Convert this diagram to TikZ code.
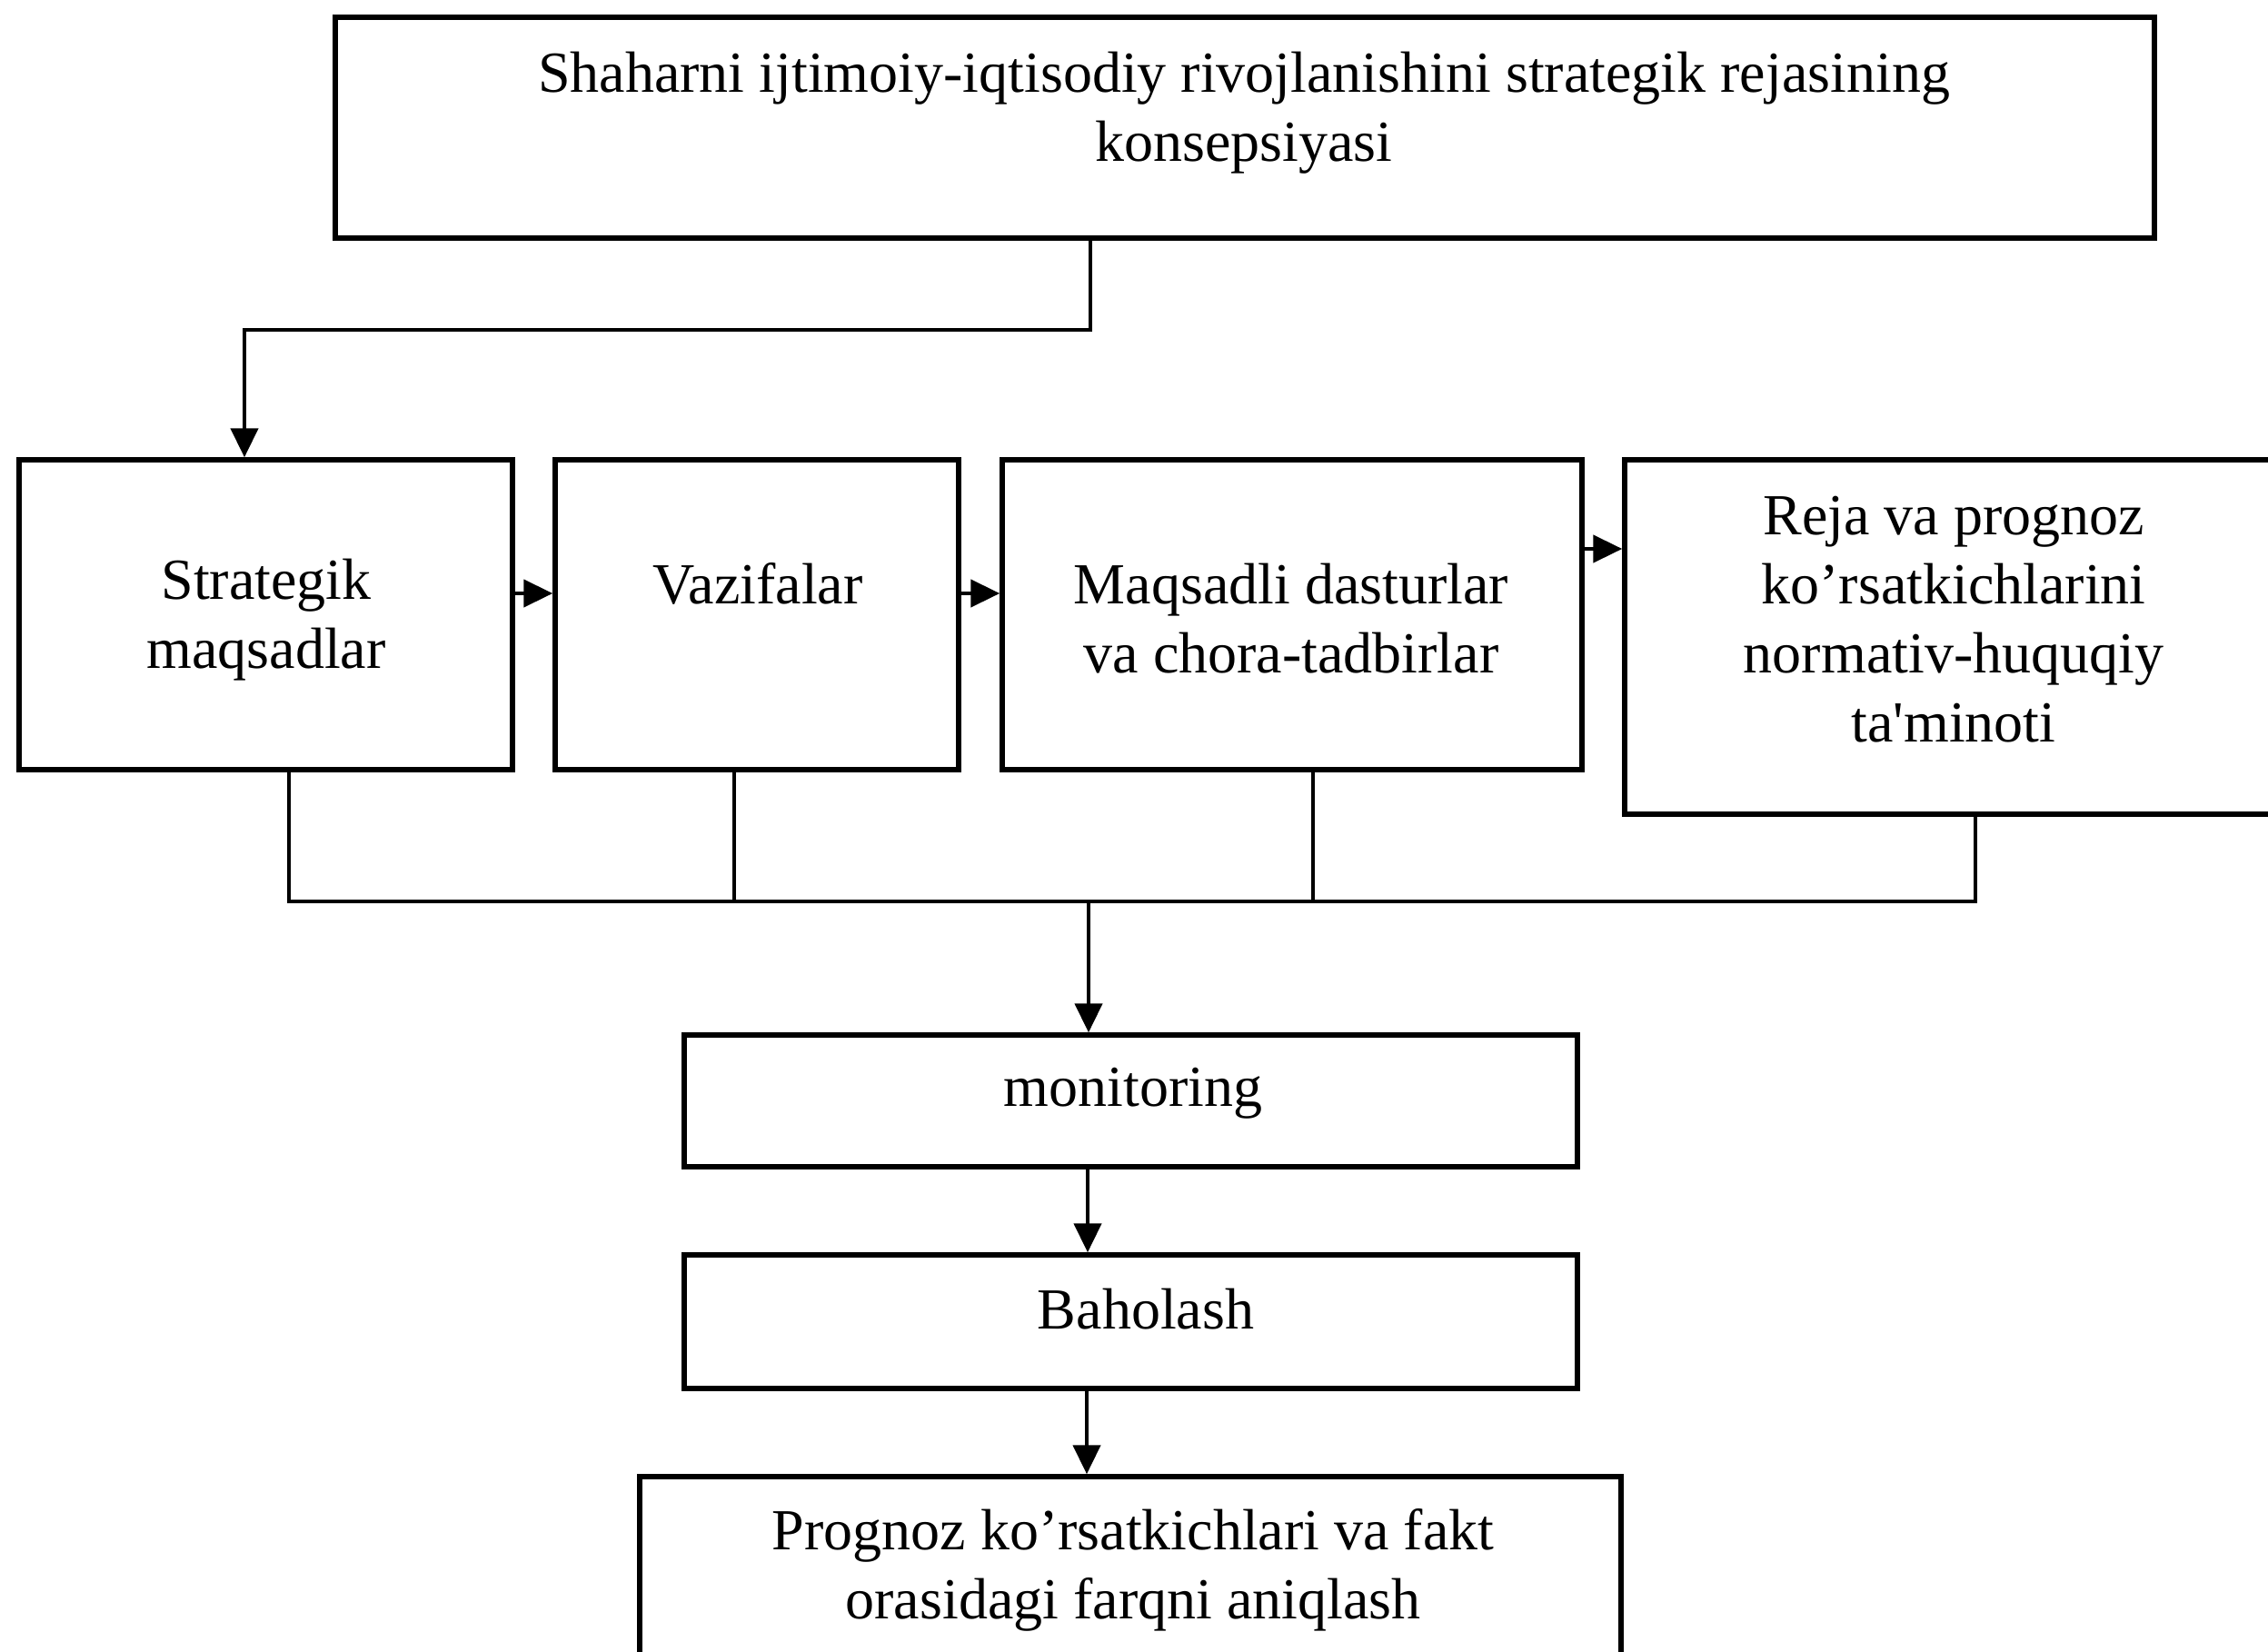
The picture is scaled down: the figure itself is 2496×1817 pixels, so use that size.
\documentclass[tikz,border=0pt]{standalone}
\usepackage{fontspec}
\setmainfont{Liberation Serif}
\usetikzlibrary{arrows.meta}
\begin{document}
\begin{tikzpicture}[x=1pt,y=-1pt,
  box/.style={draw, line width=5.5pt, inner sep=0pt},
  txt/.style={align=center, inner sep=0pt, font=\fontsize{64}{76}\selectfont},
  conn/.style={line width=4.5pt},
  arr/.style={line width=4.5pt, -{Triangle[length=32pt,width=30pt]}}]
\fill[white] (0,0) rectangle (2496,1817);
\useasboundingbox (0,0) rectangle (2496,1817);
% boxes
\node[box, minimum width=2002pt, minimum height=243pt] (top) at (1370,140.5) {};
\node[box, minimum width=543pt, minimum height=341pt] (strat) at (292.5,676.5) {};
\node[box, minimum width=444pt, minimum height=341pt] (vaz) at (833,676.5) {};
\node[box, minimum width=638pt, minimum height=341pt] (maq) at (1422,676.5) {};
\node[box, minimum width=724pt, minimum height=390pt] (reja) at (2150,701) {};
\node[box, minimum width=983pt, minimum height=145pt] (mon) at (1244.5,1211.5) {};
\node[box, minimum width=983pt, minimum height=147pt] (bah) at (1244.5,1454.5) {};
\node[box, minimum width=1080pt, minimum height=225pt] (prog) at (1244,1737.5) {};
% texts
\node[txt] (ttop) at (1369,124) {Shaharni ijtimoiy-iqtisodiy rivojlanishini strategik rejasining\\konsepsiyasi};
\node[txt] (tstrat) at (293,682) {Strategik\\maqsadlar};
\node[txt] (tvaz) at (834,642) {Vazifalar};
\node[txt] (tmaq) at (1421,681) {Maqsadli dasturlar\\va chora-tadbirlar};
\node[txt] (treja) at (2150,682) {Reja va prognoz\\ko’rsatkichlarini\\normativ-huquqiy\\ta\textquotesingle minoti};
\node[txt] (tmon) at (1247,1203) {monitoring};
\node[txt] (tbah) at (1261,1441) {Baholash};
\node[txt] (tprog) at (1247,1728) {Prognoz ko’rsatkichlari va fakt\\orasidagi farqni aniqlash};
% connectors
\draw[arr] ([xshift=-170pt]top.south) -- ++(0,98) -| ([xshift=-23.5pt]strat.north);
\draw[arr] ([yshift=23.5pt]strat.east) -- ([yshift=23.5pt]strat.east -| vaz.west);
\draw[arr] ([yshift=23.5pt]vaz.east) -- ([yshift=23.5pt]vaz.east -| maq.west);
\draw[arr] ([yshift=72.5pt]maq.east) -- ([yshift=72.5pt]maq.east -| reja.west);
\coordinate (bus) at (1198,992);
\draw[conn] ([xshift=25.5pt]strat.south) |- (bus);
\draw[conn] ([xshift=-25pt]vaz.south) -- ([xshift=-25pt]vaz.south |- bus);
\draw[conn] ([xshift=23pt]maq.south) -- ([xshift=23pt]maq.south |- bus);
\draw[conn] ([xshift=24pt]reja.south) |- (bus);
\draw[arr] (bus) -- (bus |- mon.north);
\draw[arr] ([xshift=-47.5pt]mon.south) -- ([xshift=-47.5pt]bah.north);
\draw[arr] ([xshift=-48.5pt]bah.south) -- ([xshift=-48.5pt]bah.south |- prog.north);
\end{tikzpicture}
\end{document}
